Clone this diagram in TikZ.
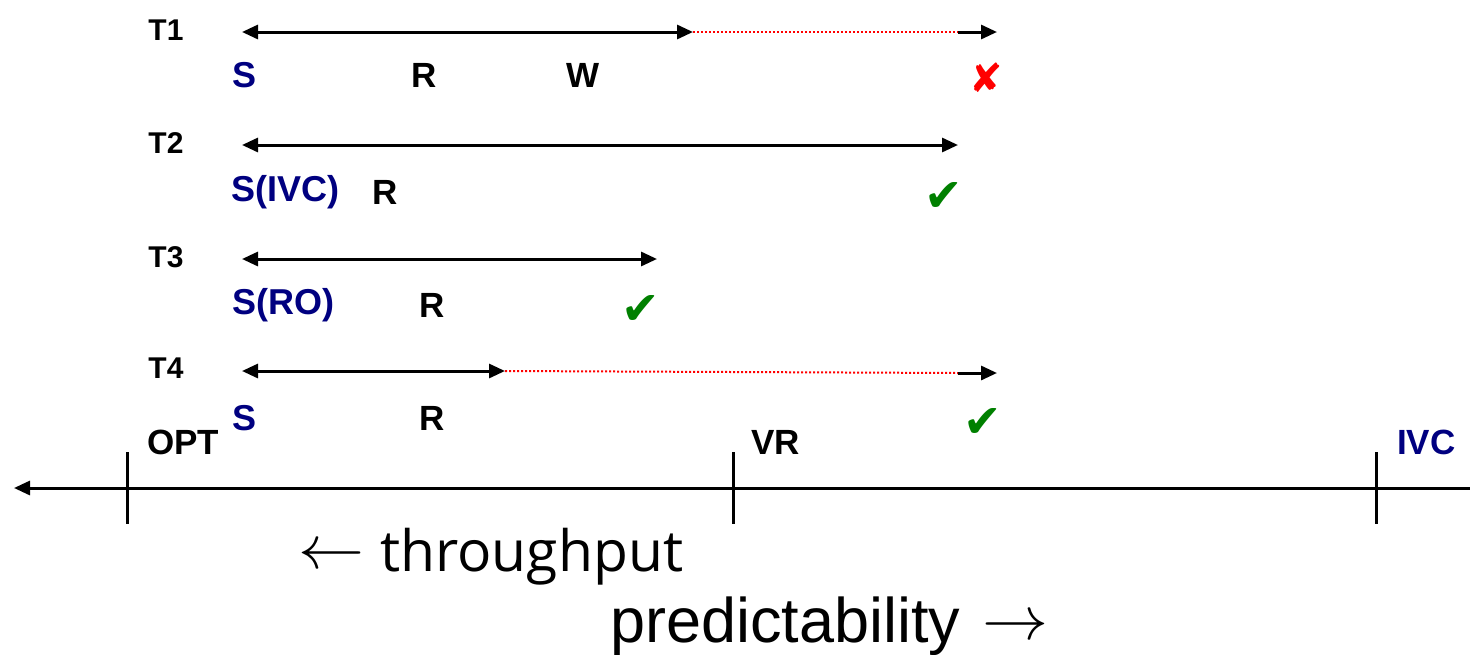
\documentclass[tikz,border=0pt]{standalone}
\usepackage{fontspec}
\usepackage{graphicx}
\setmainfont{Liberation Sans}
\newfontfamily\symfont{DejaVu Sans}
\newfontfamily\tpfont{Open Sans}
\usetikzlibrary{arrows.meta}
\definecolor{navy}{RGB}{0,0,128}
\definecolor{okgreen}{RGB}{0,128,0}
\newcommand{\bigarrow}[1]{{\fontsize{10}{10}\selectfont\raisebox{3pt}{\scalebox{6.6}[6.2]{$#1$}}}}
\begin{document}
\begin{tikzpicture}[x=1pt,y=-1pt,
  tlbl/.style={font=\bfseries\fontsize{30}{30}\selectfont,inner sep=0pt},
  slbl/.style={font=\bfseries\fontsize{36}{36}\selectfont,inner sep=0pt,text=navy},
  rlbl/.style={font=\bfseries\fontsize{35}{35}\selectfont,inner sep=0pt},
  alabel/.style={font=\bfseries\fontsize{35}{35}\selectfont,inner sep=0pt},
  ok/.style={font=\symfont\fontsize{46}{46}\selectfont,inner sep=0pt,text=okgreen},
  bad/.style={font=\symfont\fontsize{40}{40}\selectfont,inner sep=0pt,text=red},
  span/.style={line width=3pt,{Triangle[length=16pt,width=14pt]}-{Triangle[length=16pt,width=14pt]}},
  tail/.style={line width=3pt,-{Triangle[length=16pt,width=14pt]}},
  wait/.style={red,line width=2pt,dash pattern=on 2pt off 2pt},
  axis/.style={line width=3pt},
  tick/.style={line width=3pt},
  big/.style={font=\fontsize{63}{63}\selectfont,inner sep=0pt}
]
\useasboundingbox (0,0) rectangle (1470,654);

% T1
\node[tlbl] (t1) at (166,30) {T1};
\coordinate (a1) at (242,32);
\coordinate (b1) at (693,32);
\coordinate (c1) at (958,32);
\coordinate (d1) at (997,32);
\draw[span] (a1) -- (b1);
\draw[wait] (b1) -- (c1);
\draw[tail] (c1) -- (d1);
\node[slbl] (s1) at (245,75) {S};
\node[rlbl] (r1) at (424,75) {R};
\node[rlbl] (w1) at (583,75) {W};
\node[bad] (x1) at (986,78) {✘};

% T2
\node[tlbl] (t2) at (166,143) {T2};
\coordinate (a2) at (242,145);
\coordinate (b2) at (958,145);
\draw[span] (a2) -- (b2);
\node[slbl,anchor=west] (s2) at (231,192) {S(IVC)};
\node[rlbl] (r2) at (385,192) {R};
\node[ok] (k2) at (944,197) {✔};

% T3
\node[tlbl] (t3) at (166,257) {T3};
\coordinate (a3) at (242,259);
\coordinate (b3) at (657,259);
\draw[span] (a3) -- (b3);
\node[slbl,anchor=west] (s3) at (232,305) {S(RO)};
\node[rlbl] (r3) at (432,305) {R};
\node[ok] (k3) at (641,310) {✔};

% T4
\node[tlbl] (t4) at (166,368) {T4};
\coordinate (a4) at (242,371);
\coordinate (b4) at (505,371);
\coordinate (c4) at (958,373);
\coordinate (d4) at (997,373);
\draw[span] (a4) -- (b4);
\draw[wait] (b4) -- (c4);
\draw[tail] (c4) -- (d4);
\node[slbl] (s4) at (245,418) {S};
\node[rlbl] (r4) at (432,418) {R};
\node[ok] (k4) at (983,423) {✔};

% axis
\coordinate (axl) at (14,488);
\coordinate (axr) at (1470,488);
\draw[axis,{Triangle[length=16pt,width=14pt]}-] (axl) -- (axr);
\coordinate (o1) at (127,452); \coordinate (o2) at (127,524);
\coordinate (v1) at (733,452); \coordinate (v2) at (733,524);
\coordinate (i1) at (1376,452); \coordinate (i2) at (1376,524);
\draw[tick] (o1) -- (o2);
\draw[tick] (v1) -- (v2);
\draw[tick] (i1) -- (i2);
\node[alabel,anchor=west] (opt) at (147,442) {OPT};
\node[alabel,anchor=west] (vr) at (751,442) {VR};
\node[alabel,anchor=west,text=navy] (ivc) at (1397,442) {IVC};

\node[big,anchor=base west] (thr) at (298,571) {\bigarrow{\leftarrow}\hspace{16pt}{\tpfont\fontsize{57}{57}\selectfont throughput}};
\node[big,anchor=base west] (pred) at (610,642) {predictability\hspace{22pt}\bigarrow{\rightarrow}};
\end{tikzpicture}
\end{document}
